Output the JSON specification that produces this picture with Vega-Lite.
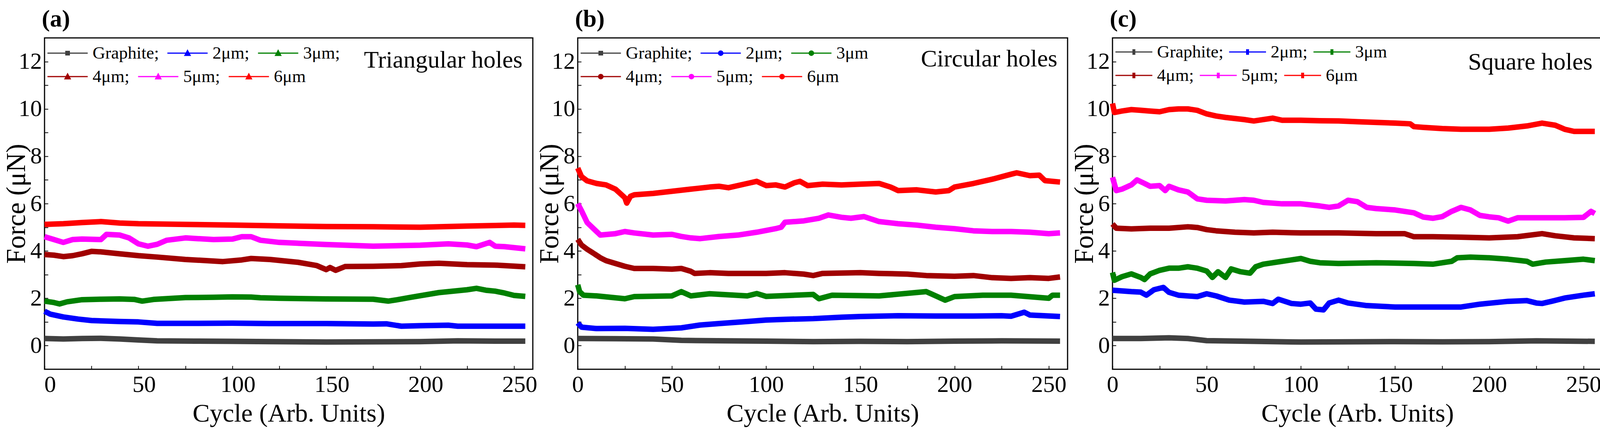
{
"$schema": "https://vega.github.io/schema/vega-lite/v6.json",
"background": "white",
"padding": {"left": 6, "top": 16, "right": 18, "bottom": 32},
"config": {
  "font": "Liberation Serif",
  "view": {"stroke": "black", "strokeWidth": 3},
  "axis": {"grid": false, "domain": false, "tickColor": "black", "tickWidth": 2, "tickSize": -9, "labelFont": "Liberation Serif", "labelFontSize": 60, "labelColor": "black", "titleFont": "Liberation Serif", "titleFontWeight": "normal", "titleColor": "black", "labelFlush": false, "format": "d"},
  "axisX": {"titleFontSize": 66, "labelPadding": 19, "titlePadding": 12},
  "axisY": {"titleFontSize": 69, "labelPadding": 16, "titlePadding": -30},
  "title": {"font": "Liberation Serif", "fontSize": 62, "fontWeight": "bold", "color": "black", "anchor": "start", "frame": "group", "baseline": "bottom", "offset": 16, "dx": -7},
  "legend": {"orient": "none", "legendX": 6, "padding": 0, "title": null, "direction": "horizontal", "columns": 3, "symbolSize": 2025, "symbolStrokeWidth": 3, "labelFont": "Liberation Serif", "labelFontSize": 45, "labelColor": "black", "labelOffset": 69, "labelLimit": 500, "columnPadding": 15, "rowPadding": 0}
},
"datasets": {
"a": [
{"s":"Graphite","c":0,"f":0.30},{"s":"Graphite","c":10,"f":0.28},{"s":"Graphite","c":20,"f":0.30},{"s":"Graphite","c":30,"f":0.31},{"s":"Graphite","c":40,"f":0.28},{"s":"Graphite","c":50,"f":0.24},{"s":"Graphite","c":60,"f":0.20},{"s":"Graphite","c":80,"f":0.19},{"s":"Graphite","c":100,"f":0.18},{"s":"Graphite","c":120,"f":0.17},{"s":"Graphite","c":150,"f":0.15},{"s":"Graphite","c":175,"f":0.16},{"s":"Graphite","c":200,"f":0.17},{"s":"Graphite","c":220,"f":0.20},{"s":"Graphite","c":240,"f":0.19},{"s":"Graphite","c":256,"f":0.19},
{"s":"2μm","c":0,"f":1.45},{"s":"2μm","c":3,"f":1.33},{"s":"2μm","c":10,"f":1.21},{"s":"2μm","c":18,"f":1.12},{"s":"2μm","c":25,"f":1.06},{"s":"2μm","c":40,"f":1.02},{"s":"2μm","c":50,"f":1.0},{"s":"2μm","c":60,"f":0.94},{"s":"2μm","c":80,"f":0.94},{"s":"2μm","c":100,"f":0.95},{"s":"2μm","c":120,"f":0.93},{"s":"2μm","c":150,"f":0.93},{"s":"2μm","c":175,"f":0.91},{"s":"2μm","c":182,"f":0.92},{"s":"2μm","c":190,"f":0.82},{"s":"2μm","c":200,"f":0.84},{"s":"2μm","c":215,"f":0.86},{"s":"2μm","c":220,"f":0.82},{"s":"2μm","c":240,"f":0.82},{"s":"2μm","c":256,"f":0.82},
{"s":"3μm","c":0,"f":1.88},{"s":"3μm","c":5,"f":1.82},{"s":"3μm","c":8,"f":1.76},{"s":"3μm","c":12,"f":1.85},{"s":"3μm","c":20,"f":1.94},{"s":"3μm","c":30,"f":1.96},{"s":"3μm","c":40,"f":1.97},{"s":"3μm","c":48,"f":1.95},{"s":"3μm","c":52,"f":1.88},{"s":"3μm","c":58,"f":1.95},{"s":"3μm","c":75,"f":2.03},{"s":"3μm","c":90,"f":2.04},{"s":"3μm","c":100,"f":2.06},{"s":"3μm","c":110,"f":2.05},{"s":"3μm","c":115,"f":2.02},{"s":"3μm","c":125,"f":2.0},{"s":"3μm","c":150,"f":1.97},{"s":"3μm","c":175,"f":1.96},{"s":"3μm","c":183,"f":1.88},{"s":"3μm","c":188,"f":1.94},{"s":"3μm","c":195,"f":2.04},{"s":"3μm","c":210,"f":2.24},{"s":"3μm","c":225,"f":2.36},{"s":"3μm","c":230,"f":2.42},{"s":"3μm","c":235,"f":2.34},{"s":"3μm","c":240,"f":2.30},{"s":"3μm","c":245,"f":2.22},{"s":"3μm","c":250,"f":2.12},{"s":"3μm","c":256,"f":2.08},
{"s":"4μm","c":0,"f":3.85},{"s":"4μm","c":5,"f":3.82},{"s":"4μm","c":10,"f":3.76},{"s":"4μm","c":15,"f":3.80},{"s":"4μm","c":20,"f":3.88},{"s":"4μm","c":25,"f":3.98},{"s":"4μm","c":30,"f":3.96},{"s":"4μm","c":35,"f":3.92},{"s":"4μm","c":40,"f":3.88},{"s":"4μm","c":50,"f":3.80},{"s":"4μm","c":60,"f":3.74},{"s":"4μm","c":75,"f":3.64},{"s":"4μm","c":95,"f":3.55},{"s":"4μm","c":105,"f":3.62},{"s":"4μm","c":110,"f":3.68},{"s":"4μm","c":120,"f":3.64},{"s":"4μm","c":135,"f":3.52},{"s":"4μm","c":145,"f":3.38},{"s":"4μm","c":150,"f":3.21},{"s":"4μm","c":152,"f":3.30},{"s":"4μm","c":155,"f":3.18},{"s":"4μm","c":160,"f":3.34},{"s":"4μm","c":175,"f":3.35},{"s":"4μm","c":190,"f":3.38},{"s":"4μm","c":200,"f":3.45},{"s":"4μm","c":210,"f":3.48},{"s":"4μm","c":225,"f":3.42},{"s":"4μm","c":240,"f":3.40},{"s":"4μm","c":256,"f":3.33},
{"s":"5μm","c":0,"f":4.6},{"s":"5μm","c":5,"f":4.48},{"s":"5μm","c":10,"f":4.36},{"s":"5μm","c":15,"f":4.48},{"s":"5μm","c":20,"f":4.5},{"s":"5μm","c":30,"f":4.48},{"s":"5μm","c":33,"f":4.70},{"s":"5μm","c":40,"f":4.67},{"s":"5μm","c":45,"f":4.55},{"s":"5μm","c":50,"f":4.30},{"s":"5μm","c":55,"f":4.20},{"s":"5μm","c":60,"f":4.28},{"s":"5μm","c":65,"f":4.45},{"s":"5μm","c":75,"f":4.55},{"s":"5μm","c":90,"f":4.48},{"s":"5μm","c":100,"f":4.50},{"s":"5μm","c":105,"f":4.60},{"s":"5μm","c":110,"f":4.60},{"s":"5μm","c":115,"f":4.45},{"s":"5μm","c":125,"f":4.36},{"s":"5μm","c":150,"f":4.27},{"s":"5μm","c":175,"f":4.20},{"s":"5μm","c":200,"f":4.24},{"s":"5μm","c":215,"f":4.30},{"s":"5μm","c":225,"f":4.25},{"s":"5μm","c":230,"f":4.18},{"s":"5μm","c":237,"f":4.36},{"s":"5μm","c":240,"f":4.20},{"s":"5μm","c":245,"f":4.18},{"s":"5μm","c":256,"f":4.09},
{"s":"6μm","c":0,"f":5.12},{"s":"6μm","c":10,"f":5.15},{"s":"6μm","c":20,"f":5.2},{"s":"6μm","c":30,"f":5.24},{"s":"6μm","c":40,"f":5.18},{"s":"6μm","c":50,"f":5.15},{"s":"6μm","c":75,"f":5.12},{"s":"6μm","c":100,"f":5.09},{"s":"6μm","c":125,"f":5.06},{"s":"6μm","c":150,"f":5.03},{"s":"6μm","c":175,"f":5.02},{"s":"6μm","c":200,"f":5.0},{"s":"6μm","c":225,"f":5.05},{"s":"6μm","c":250,"f":5.09},{"s":"6μm","c":256,"f":5.08}
],
"b": [
{"s":"Graphite","c":0,"f":0.30},{"s":"Graphite","c":20,"f":0.29},{"s":"Graphite","c":40,"f":0.28},{"s":"Graphite","c":55,"f":0.22},{"s":"Graphite","c":80,"f":0.20},{"s":"Graphite","c":100,"f":0.19},{"s":"Graphite","c":125,"f":0.17},{"s":"Graphite","c":150,"f":0.18},{"s":"Graphite","c":175,"f":0.17},{"s":"Graphite","c":200,"f":0.19},{"s":"Graphite","c":225,"f":0.20},{"s":"Graphite","c":256,"f":0.19},
{"s":"2μm","c":0,"f":0.96},{"s":"2μm","c":2,"f":0.78},{"s":"2μm","c":10,"f":0.72},{"s":"2μm","c":25,"f":0.73},{"s":"2μm","c":40,"f":0.69},{"s":"2μm","c":55,"f":0.75},{"s":"2μm","c":65,"f":0.87},{"s":"2μm","c":75,"f":0.93},{"s":"2μm","c":90,"f":1.02},{"s":"2μm","c":100,"f":1.08},{"s":"2μm","c":110,"f":1.11},{"s":"2μm","c":125,"f":1.14},{"s":"2μm","c":140,"f":1.2},{"s":"2μm","c":150,"f":1.23},{"s":"2μm","c":170,"f":1.26},{"s":"2μm","c":190,"f":1.25},{"s":"2μm","c":210,"f":1.25},{"s":"2μm","c":225,"f":1.26},{"s":"2μm","c":230,"f":1.24},{"s":"2μm","c":237,"f":1.41},{"s":"2μm","c":240,"f":1.29},{"s":"2μm","c":256,"f":1.23},
{"s":"3μm","c":0,"f":2.57},{"s":"3μm","c":1,"f":2.28},{"s":"3μm","c":3,"f":2.13},{"s":"3μm","c":10,"f":2.1},{"s":"3μm","c":25,"f":1.98},{"s":"3μm","c":30,"f":2.07},{"s":"3μm","c":50,"f":2.1},{"s":"3μm","c":55,"f":2.28},{"s":"3μm","c":60,"f":2.1},{"s":"3μm","c":70,"f":2.19},{"s":"3μm","c":90,"f":2.1},{"s":"3μm","c":95,"f":2.2},{"s":"3μm","c":100,"f":2.08},{"s":"3μm","c":125,"f":2.16},{"s":"3μm","c":128,"f":1.98},{"s":"3μm","c":135,"f":2.13},{"s":"3μm","c":160,"f":2.1},{"s":"3μm","c":185,"f":2.28},{"s":"3μm","c":190,"f":2.1},{"s":"3μm","c":195,"f":1.92},{"s":"3μm","c":200,"f":2.07},{"s":"3μm","c":215,"f":2.13},{"s":"3μm","c":230,"f":2.13},{"s":"3μm","c":250,"f":2.0},{"s":"3μm","c":252,"f":2.13},{"s":"3μm","c":256,"f":2.13},
{"s":"4μm","c":0,"f":4.49},{"s":"4μm","c":2,"f":4.25},{"s":"4μm","c":5,"f":4.07},{"s":"4μm","c":8,"f":3.92},{"s":"4μm","c":12,"f":3.71},{"s":"4μm","c":15,"f":3.59},{"s":"4μm","c":20,"f":3.47},{"s":"4μm","c":25,"f":3.35},{"s":"4μm","c":30,"f":3.26},{"s":"4μm","c":40,"f":3.26},{"s":"4μm","c":50,"f":3.23},{"s":"4μm","c":55,"f":3.26},{"s":"4μm","c":60,"f":3.14},{"s":"4μm","c":62,"f":3.05},{"s":"4μm","c":70,"f":3.08},{"s":"4μm","c":80,"f":3.05},{"s":"4μm","c":100,"f":3.05},{"s":"4μm","c":110,"f":3.08},{"s":"4μm","c":120,"f":3.02},{"s":"4μm","c":125,"f":2.96},{"s":"4μm","c":130,"f":3.05},{"s":"4μm","c":150,"f":3.08},{"s":"4μm","c":160,"f":3.05},{"s":"4μm","c":175,"f":3.02},{"s":"4μm","c":185,"f":2.96},{"s":"4μm","c":200,"f":2.93},{"s":"4μm","c":210,"f":2.96},{"s":"4μm","c":220,"f":2.87},{"s":"4μm","c":230,"f":2.84},{"s":"4μm","c":240,"f":2.87},{"s":"4μm","c":250,"f":2.84},{"s":"4μm","c":256,"f":2.9},
{"s":"5μm","c":0,"f":6.0},{"s":"5μm","c":2,"f":5.7},{"s":"5μm","c":5,"f":5.2},{"s":"5μm","c":8,"f":4.97},{"s":"5μm","c":12,"f":4.67},{"s":"5μm","c":20,"f":4.73},{"s":"5μm","c":25,"f":4.82},{"s":"5μm","c":30,"f":4.76},{"s":"5μm","c":40,"f":4.67},{"s":"5μm","c":50,"f":4.7},{"s":"5μm","c":55,"f":4.61},{"s":"5μm","c":60,"f":4.55},{"s":"5μm","c":65,"f":4.52},{"s":"5μm","c":75,"f":4.61},{"s":"5μm","c":85,"f":4.67},{"s":"5μm","c":95,"f":4.79},{"s":"5μm","c":105,"f":4.94},{"s":"5μm","c":108,"f":5.0},{"s":"5μm","c":110,"f":5.21},{"s":"5μm","c":120,"f":5.27},{"s":"5μm","c":128,"f":5.38},{"s":"5μm","c":133,"f":5.52},{"s":"5μm","c":140,"f":5.42},{"s":"5μm","c":145,"f":5.38},{"s":"5μm","c":152,"f":5.45},{"s":"5μm","c":160,"f":5.24},{"s":"5μm","c":170,"f":5.15},{"s":"5μm","c":180,"f":5.09},{"s":"5μm","c":190,"f":5.0},{"s":"5μm","c":200,"f":4.94},{"s":"5μm","c":210,"f":4.85},{"s":"5μm","c":220,"f":4.82},{"s":"5μm","c":230,"f":4.82},{"s":"5μm","c":240,"f":4.79},{"s":"5μm","c":250,"f":4.73},{"s":"5μm","c":256,"f":4.76},
{"s":"6μm","c":0,"f":7.5},{"s":"6μm","c":2,"f":7.14},{"s":"6μm","c":5,"f":6.96},{"s":"6μm","c":10,"f":6.85},{"s":"6μm","c":15,"f":6.79},{"s":"6μm","c":20,"f":6.61},{"s":"6μm","c":25,"f":6.25},{"s":"6μm","c":26,"f":6.02},{"s":"6μm","c":28,"f":6.31},{"s":"6μm","c":30,"f":6.37},{"s":"6μm","c":40,"f":6.43},{"s":"6μm","c":50,"f":6.52},{"s":"6μm","c":60,"f":6.61},{"s":"6μm","c":70,"f":6.7},{"s":"6μm","c":75,"f":6.73},{"s":"6μm","c":80,"f":6.67},{"s":"6μm","c":90,"f":6.85},{"s":"6μm","c":95,"f":6.94},{"s":"6μm","c":100,"f":6.76},{"s":"6μm","c":105,"f":6.79},{"s":"6μm","c":110,"f":6.7},{"s":"6μm","c":115,"f":6.88},{"s":"6μm","c":118,"f":6.94},{"s":"6μm","c":122,"f":6.76},{"s":"6μm","c":130,"f":6.82},{"s":"6μm","c":140,"f":6.79},{"s":"6μm","c":150,"f":6.82},{"s":"6μm","c":160,"f":6.85},{"s":"6μm","c":166,"f":6.7},{"s":"6μm","c":170,"f":6.55},{"s":"6μm","c":180,"f":6.58},{"s":"6μm","c":190,"f":6.49},{"s":"6μm","c":197,"f":6.55},{"s":"6μm","c":200,"f":6.7},{"s":"6μm","c":210,"f":6.85},{"s":"6μm","c":220,"f":7.03},{"s":"6μm","c":230,"f":7.24},{"s":"6μm","c":233,"f":7.3},{"s":"6μm","c":240,"f":7.18},{"s":"6μm","c":245,"f":7.2},{"s":"6μm","c":248,"f":6.97},{"s":"6μm","c":256,"f":6.91}
],
"c": [
{"s":"Graphite","c":0,"f":0.30},{"s":"Graphite","c":15,"f":0.30},{"s":"Graphite","c":30,"f":0.33},{"s":"Graphite","c":40,"f":0.30},{"s":"Graphite","c":50,"f":0.21},{"s":"Graphite","c":75,"f":0.18},{"s":"Graphite","c":100,"f":0.15},{"s":"Graphite","c":125,"f":0.16},{"s":"Graphite","c":150,"f":0.17},{"s":"Graphite","c":175,"f":0.16},{"s":"Graphite","c":200,"f":0.17},{"s":"Graphite","c":225,"f":0.20},{"s":"Graphite","c":256,"f":0.18},
{"s":"2μm","c":0,"f":2.34},{"s":"2μm","c":5,"f":2.31},{"s":"2μm","c":10,"f":2.28},{"s":"2μm","c":15,"f":2.26},{"s":"2μm","c":18,"f":2.13},{"s":"2μm","c":22,"f":2.36},{"s":"2μm","c":27,"f":2.46},{"s":"2μm","c":30,"f":2.25},{"s":"2μm","c":35,"f":2.13},{"s":"2μm","c":45,"f":2.07},{"s":"2μm","c":50,"f":2.19},{"s":"2μm","c":55,"f":2.1},{"s":"2μm","c":62,"f":1.92},{"s":"2μm","c":70,"f":1.84},{"s":"2μm","c":80,"f":1.87},{"s":"2μm","c":85,"f":1.78},{"s":"2μm","c":88,"f":1.96},{"s":"2μm","c":95,"f":1.78},{"s":"2μm","c":100,"f":1.75},{"s":"2μm","c":105,"f":1.8},{"s":"2μm","c":108,"f":1.54},{"s":"2μm","c":112,"f":1.51},{"s":"2μm","c":115,"f":1.8},{"s":"2μm","c":120,"f":1.92},{"s":"2μm","c":125,"f":1.8},{"s":"2μm","c":135,"f":1.69},{"s":"2μm","c":150,"f":1.63},{"s":"2μm","c":175,"f":1.63},{"s":"2μm","c":185,"f":1.63},{"s":"2μm","c":195,"f":1.75},{"s":"2μm","c":210,"f":1.87},{"s":"2μm","c":220,"f":1.9},{"s":"2μm","c":225,"f":1.8},{"s":"2μm","c":228,"f":1.78},{"s":"2μm","c":233,"f":1.87},{"s":"2μm","c":240,"f":2.01},{"s":"2μm","c":250,"f":2.13},{"s":"2μm","c":256,"f":2.19},
{"s":"3μm","c":0,"f":3.09},{"s":"3μm","c":1,"f":2.76},{"s":"3μm","c":5,"f":2.91},{"s":"3μm","c":10,"f":3.03},{"s":"3μm","c":15,"f":2.88},{"s":"3μm","c":17,"f":2.79},{"s":"3μm","c":20,"f":3.03},{"s":"3μm","c":25,"f":3.18},{"s":"3μm","c":30,"f":3.27},{"s":"3μm","c":35,"f":3.27},{"s":"3μm","c":40,"f":3.33},{"s":"3μm","c":45,"f":3.27},{"s":"3μm","c":50,"f":3.15},{"s":"3μm","c":53,"f":2.88},{"s":"3μm","c":56,"f":3.12},{"s":"3μm","c":60,"f":2.88},{"s":"3μm","c":63,"f":3.24},{"s":"3μm","c":68,"f":3.12},{"s":"3μm","c":73,"f":3.06},{"s":"3μm","c":76,"f":3.33},{"s":"3μm","c":80,"f":3.44},{"s":"3μm","c":90,"f":3.56},{"s":"3μm","c":100,"f":3.68},{"s":"3μm","c":105,"f":3.56},{"s":"3μm","c":110,"f":3.5},{"s":"3μm","c":120,"f":3.47},{"s":"3μm","c":140,"f":3.5},{"s":"3μm","c":160,"f":3.47},{"s":"3μm","c":170,"f":3.44},{"s":"3μm","c":180,"f":3.56},{"s":"3μm","c":183,"f":3.71},{"s":"3μm","c":190,"f":3.74},{"s":"3μm","c":200,"f":3.71},{"s":"3μm","c":210,"f":3.65},{"s":"3μm","c":220,"f":3.56},{"s":"3μm","c":223,"f":3.44},{"s":"3μm","c":230,"f":3.53},{"s":"3μm","c":240,"f":3.59},{"s":"3μm","c":250,"f":3.65},{"s":"3μm","c":256,"f":3.59},
{"s":"4μm","c":0,"f":5.14},{"s":"4μm","c":2,"f":4.96},{"s":"4μm","c":10,"f":4.93},{"s":"4μm","c":20,"f":4.96},{"s":"4μm","c":30,"f":4.96},{"s":"4μm","c":40,"f":5.02},{"s":"4μm","c":45,"f":4.99},{"s":"4μm","c":50,"f":4.9},{"s":"4μm","c":55,"f":4.85},{"s":"4μm","c":65,"f":4.79},{"s":"4μm","c":75,"f":4.76},{"s":"4μm","c":85,"f":4.79},{"s":"4μm","c":100,"f":4.76},{"s":"4μm","c":120,"f":4.76},{"s":"4μm","c":140,"f":4.73},{"s":"4μm","c":155,"f":4.73},{"s":"4μm","c":160,"f":4.6},{"s":"4μm","c":170,"f":4.6},{"s":"4μm","c":185,"f":4.58},{"s":"4μm","c":200,"f":4.55},{"s":"4μm","c":215,"f":4.6},{"s":"4μm","c":228,"f":4.73},{"s":"4μm","c":235,"f":4.64},{"s":"4μm","c":245,"f":4.55},{"s":"4μm","c":256,"f":4.52},
{"s":"5μm","c":0,"f":7.11},{"s":"5μm","c":2,"f":6.55},{"s":"5μm","c":5,"f":6.61},{"s":"5μm","c":10,"f":6.79},{"s":"5μm","c":13,"f":7.0},{"s":"5μm","c":17,"f":6.85},{"s":"5μm","c":20,"f":6.73},{"s":"5μm","c":25,"f":6.76},{"s":"5μm","c":28,"f":6.55},{"s":"5μm","c":30,"f":6.73},{"s":"5μm","c":35,"f":6.58},{"s":"5μm","c":40,"f":6.49},{"s":"5μm","c":45,"f":6.2},{"s":"5μm","c":50,"f":6.14},{"s":"5μm","c":60,"f":6.11},{"s":"5μm","c":70,"f":6.17},{"s":"5μm","c":75,"f":6.14},{"s":"5μm","c":80,"f":6.05},{"s":"5μm","c":90,"f":5.99},{"s":"5μm","c":100,"f":5.99},{"s":"5μm","c":110,"f":5.9},{"s":"5μm","c":115,"f":5.84},{"s":"5μm","c":120,"f":5.9},{"s":"5μm","c":125,"f":6.14},{"s":"5μm","c":130,"f":6.08},{"s":"5μm","c":135,"f":5.84},{"s":"5μm","c":140,"f":5.79},{"s":"5μm","c":150,"f":5.73},{"s":"5μm","c":160,"f":5.61},{"s":"5μm","c":165,"f":5.43},{"s":"5μm","c":170,"f":5.38},{"s":"5μm","c":175,"f":5.45},{"s":"5μm","c":180,"f":5.67},{"s":"5μm","c":185,"f":5.84},{"s":"5μm","c":190,"f":5.73},{"s":"5μm","c":195,"f":5.5},{"s":"5μm","c":200,"f":5.44},{"s":"5μm","c":205,"f":5.4},{"s":"5μm","c":210,"f":5.26},{"s":"5μm","c":215,"f":5.4},{"s":"5μm","c":225,"f":5.4},{"s":"5μm","c":240,"f":5.4},{"s":"5μm","c":250,"f":5.42},{"s":"5μm","c":254,"f":5.67},{"s":"5μm","c":256,"f":5.58},
{"s":"6μm","c":0,"f":10.23},{"s":"6μm","c":1,"f":9.85},{"s":"6μm","c":5,"f":9.91},{"s":"6μm","c":10,"f":9.97},{"s":"6μm","c":15,"f":9.94},{"s":"6μm","c":20,"f":9.91},{"s":"6μm","c":25,"f":9.88},{"s":"6μm","c":30,"f":9.97},{"s":"6μm","c":35,"f":10.0},{"s":"6μm","c":40,"f":10.0},{"s":"6μm","c":45,"f":9.94},{"s":"6μm","c":50,"f":9.79},{"s":"6μm","c":55,"f":9.7},{"s":"6μm","c":60,"f":9.64},{"s":"6μm","c":70,"f":9.55},{"s":"6μm","c":75,"f":9.49},{"s":"6μm","c":85,"f":9.61},{"s":"6μm","c":90,"f":9.52},{"s":"6μm","c":100,"f":9.52},{"s":"6μm","c":110,"f":9.5},{"s":"6μm","c":120,"f":9.49},{"s":"6μm","c":130,"f":9.46},{"s":"6μm","c":140,"f":9.43},{"s":"6μm","c":150,"f":9.4},{"s":"6μm","c":158,"f":9.37},{"s":"6μm","c":160,"f":9.25},{"s":"6μm","c":165,"f":9.22},{"s":"6μm","c":175,"f":9.17},{"s":"6μm","c":185,"f":9.14},{"s":"6μm","c":200,"f":9.14},{"s":"6μm","c":210,"f":9.19},{"s":"6μm","c":220,"f":9.28},{"s":"6μm","c":228,"f":9.4},{"s":"6μm","c":235,"f":9.31},{"s":"6μm","c":240,"f":9.14},{"s":"6μm","c":245,"f":9.05},{"s":"6μm","c":256,"f":9.05}
]
},
"spacing": 115,
"bounds": "flush",
"resolve": {"scale": {"color": "independent", "stroke": "independent"}, "legend": {"color": "independent", "stroke": "independent"}},
"hconcat": [
{
 "width": 1250, "height": 848,
 "title": {"text": "(a)"},
 "encoding": {
  "x": {"field": "c", "type": "quantitative", "scale": {"domain": [0, 260], "nice": false, "zero": false}, "axis": {"title": "Cycle (Arb. Units)", "values": [0,25,50,75,100,125,150,175,200,225,250], "labelExpr": "datum.value % 50 === 0 ? datum.label : ''", "labelOffset": 14}},
  "y": {"field": "f", "type": "quantitative", "scale": {"domain": [-1, 13], "nice": false, "zero": false}, "axis": {"title": "Force (μN)", "values": [0,1,2,3,4,5,6,7,8,9,10,11,12], "labelExpr": "datum.value % 2 === 0 ? datum.label : ''"}}
 },
 "layer": [
  {"data": {"name": "a"},
   "transform": [{"filter": {"field": "s", "oneOf": ["Graphite","2μm","3μm"]}}],
   "mark": {"type": "line", "strokeWidth": 14, "strokeJoin": "round"},
   "encoding": {
    "color": {"field": "s", "type": "nominal", "sort": null,
      "scale": {"domain": ["Graphite","2μm","3μm"], "range": ["#404040","#0000ff","#008000"]},
      "legend": {"legendY": 15, "labelExpr": "datum.label + ';'",
        "encode": {"symbols": {"update": {
          "fill": {"signal": "datum.value === 'Graphite' ? '#404040' : datum.value === '2μm' ? '#0000ff' : '#008000'"},
          "stroke": {"value": "#404040"}, "strokeWidth": {"value": 3}, "opacity": {"value": 1},
          "shape": {"signal": "datum.value === 'Graphite' ? 'M-1,0H3.58M1.09,-0.2H1.49V0.2H1.09Z' : 'M-1,0H3.58M0.99,0.26L1.29,-0.3L1.59,0.26Z'"}}}}}}
   }},
  {"data": {"name": "a"},
   "transform": [{"filter": {"field": "s", "oneOf": ["4μm","5μm","6μm"]}}],
   "mark": {"type": "line", "strokeWidth": 14, "strokeJoin": "round"},
   "encoding": {
    "stroke": {"field": "s", "type": "nominal", "sort": null,
      "scale": {"domain": ["4μm","5μm","6μm"], "range": ["#a00000","#ff00ff","#ff0000"]},
      "legend": {"legendY": 75, "labelExpr": "datum.label === '6μm' ? datum.label : datum.label + ';'",
        "encode": {"symbols": {"update": {
          "fill": {"signal": "datum.value === '4μm' ? '#a00000' : datum.value === '5μm' ? '#ff00ff' : '#ff0000'"},
          "stroke": {"value": "#404040"}, "strokeWidth": {"value": 3}, "opacity": {"value": 1},
          "shape": {"value": "M-1,0H3.58M0.99,0.26L1.29,-0.3L1.59,0.26Z"}}}}}}
   }},
  {"data": {"values": [{"t": "Triangular holes", "c": 254.5, "f": 11.75}]},
   "mark": {"type": "text", "align": "right", "baseline": "alphabetic", "fontSize": 62, "font": "Liberation Serif", "color": "black"},
   "encoding": {"text": {"field": "t"}}}
 ]
},
{
 "width": 1254, "height": 848,
 "title": {"text": "(b)"},
 "encoding": {
  "x": {"field": "c", "type": "quantitative", "scale": {"domain": [0, 260], "nice": false, "zero": false}, "axis": {"title": "Cycle (Arb. Units)", "values": [0,25,50,75,100,125,150,175,200,225,250], "labelExpr": "datum.value % 50 === 0 ? datum.label : ''"}},
  "y": {"field": "f", "type": "quantitative", "scale": {"domain": [-1, 13], "nice": false, "zero": false}, "axis": {"title": "Force (μN)", "values": [0,1,2,3,4,5,6,7,8,9,10,11,12], "labelExpr": "datum.value % 2 === 0 ? datum.label : ''"}}
 },
 "layer": [
  {"data": {"name": "b"},
   "transform": [{"filter": {"field": "s", "oneOf": ["Graphite","2μm","3μm"]}}],
   "mark": {"type": "line", "strokeWidth": 14, "strokeJoin": "round"},
   "encoding": {
    "color": {"field": "s", "type": "nominal", "sort": null,
      "scale": {"domain": ["Graphite","2μm","3μm"], "range": ["#404040","#0000ff","#008000"]},
      "legend": {"legendY": 15, "labelExpr": "datum.label === '3μm' ? datum.label : datum.label + ';'",
        "encode": {"symbols": {"update": {
          "fill": {"signal": "datum.value === 'Graphite' ? '#404040' : datum.value === '2μm' ? '#0000ff' : '#008000'"},
          "stroke": {"value": "#404040"}, "strokeWidth": {"value": 3}, "opacity": {"value": 1},
          "shape": {"signal": "datum.value === 'Graphite' ? 'M-1,0H3.58M1.09,-0.2H1.49V0.2H1.09Z' : 'M-1,0H3.58M1.04,0A0.25,0.25,0,1,0,1.54,0A0.25,0.25,0,1,0,1.04,0Z'"}}}}}}
   }},
  {"data": {"name": "b"},
   "transform": [{"filter": {"field": "s", "oneOf": ["4μm","5μm","6μm"]}}],
   "mark": {"type": "line", "strokeWidth": 14, "strokeJoin": "round"},
   "encoding": {
    "stroke": {"field": "s", "type": "nominal", "sort": null,
      "scale": {"domain": ["4μm","5μm","6μm"], "range": ["#a00000","#ff00ff","#ff0000"]},
      "legend": {"legendY": 75, "labelExpr": "datum.label === '6μm' ? datum.label : datum.label + ';'",
        "encode": {"symbols": {"update": {
          "fill": {"signal": "datum.value === '4μm' ? '#a00000' : datum.value === '5μm' ? '#ff00ff' : '#ff0000'"},
          "stroke": {"value": "#404040"}, "strokeWidth": {"value": 3}, "opacity": {"value": 1},
          "shape": {"value": "M-1,0H3.58M1.04,0A0.25,0.25,0,1,0,1.54,0A0.25,0.25,0,1,0,1.04,0Z"}}}}}}
   }},
  {"data": {"values": [{"t": "Circular holes", "c": 254.6, "f": 11.8}]},
   "mark": {"type": "text", "align": "right", "baseline": "alphabetic", "fontSize": 62, "font": "Liberation Serif", "color": "black"},
   "encoding": {"text": {"field": "t"}}}
 ]
},
{
 "width": 1254, "height": 848,
 "title": {"text": "(c)"},
 "encoding": {
  "x": {"field": "c", "type": "quantitative", "scale": {"domain": [0, 260], "nice": false, "zero": false}, "axis": {"title": "Cycle (Arb. Units)", "values": [0,25,50,75,100,125,150,175,200,225,250], "labelExpr": "datum.value % 50 === 0 ? datum.label : ''"}},
  "y": {"field": "f", "type": "quantitative", "scale": {"domain": [-1, 13], "nice": false, "zero": false}, "axis": {"title": "Force (μN)", "values": [0,1,2,3,4,5,6,7,8,9,10,11,12], "labelExpr": "datum.value % 2 === 0 ? datum.label : ''"}}
 },
 "layer": [
  {"data": {"name": "c"},
   "transform": [{"filter": {"field": "s", "oneOf": ["Graphite","2μm","3μm"]}}],
   "mark": {"type": "line", "strokeWidth": 14, "strokeJoin": "round"},
   "encoding": {
    "color": {"field": "s", "type": "nominal", "sort": null,
      "scale": {"domain": ["Graphite","2μm","3μm"], "range": ["#404040","#0000ff","#008000"]},
      "legend": {"legendY": 12, "labelOffset": 60, "columnPadding": 8, "labelExpr": "datum.label === '3μm' ? datum.label : datum.label + ';'",
        "encode": {"symbols": {"update": {
          "fill": {"signal": "datum.value === 'Graphite' ? '#404040' : datum.value === '2μm' ? '#0000ff' : '#008000'"},
          "stroke": {"value": "#404040"}, "strokeWidth": {"value": 3}, "opacity": {"value": 1},
          "shape": {"value": "M-1,0H3.2M1.0,-0.25H1.2V0.25H1.0Z"}}}}}}
   }},
  {"data": {"name": "c"},
   "transform": [{"filter": {"field": "s", "oneOf": ["4μm","5μm","6μm"]}}],
   "mark": {"type": "line", "strokeWidth": 14, "strokeJoin": "round"},
   "encoding": {
    "stroke": {"field": "s", "type": "nominal", "sort": null,
      "scale": {"domain": ["4μm","5μm","6μm"], "range": ["#a00000","#ff00ff","#ff0000"]},
      "legend": {"legendY": 72, "labelOffset": 60, "columnPadding": 8, "labelExpr": "datum.label === '6μm' ? datum.label : datum.label + ';'",
        "encode": {"symbols": {"update": {
          "fill": {"signal": "datum.value === '4μm' ? '#a00000' : datum.value === '5μm' ? '#ff00ff' : '#ff0000'"},
          "stroke": {"value": "#404040"}, "strokeWidth": {"value": 3}, "opacity": {"value": 1},
          "shape": {"value": "M-1,0H3.2M1.0,-0.25H1.2V0.25H1.0Z"}}}}}}
   }},
  {"data": {"values": [{"t": "Square holes", "c": 254.8, "f": 11.66}]},
   "mark": {"type": "text", "align": "right", "baseline": "alphabetic", "fontSize": 62, "font": "Liberation Serif", "color": "black"},
   "encoding": {"text": {"field": "t"}}}
 ]
}
]
}
